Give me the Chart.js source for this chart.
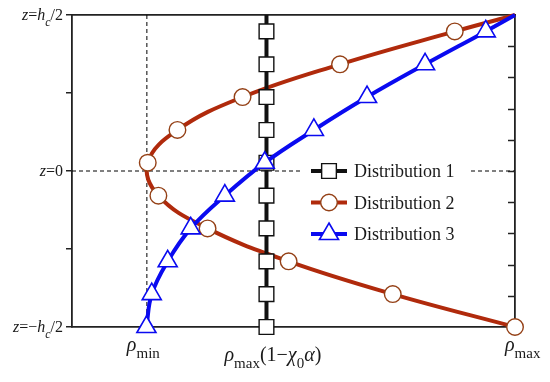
<!DOCTYPE html>
<html><head><meta charset="utf-8">
<script src="https://cdn.jsdelivr.net/npm/chart.js@4.4.0/dist/chart.umd.min.js"></script>
<style>html,body{margin:0;padding:0;background:#fff;}canvas{display:block;}</style>
</head><body>
<canvas id="c" width="550" height="382"></canvas>
<script>
// ---- data ----
const seriesNames = ['Distribution 1', 'Distribution 2', 'Distribution 3'];
const zLevels = [-1, -0.789, -0.579, -0.368, -0.158, 0.053, 0.263, 0.474, 0.684, 0.895, 1];
const rhoMin = 0.169, rhoMid = 0.439, rhoMax = 1;
const dist1 = [0.439, 0.439, 0.439, 0.439, 0.439, 0.439, 0.439, 0.439, 0.439, 0.439, 0.439];
const dist2 = [1.0, 0.724, 0.489, 0.306, 0.195, 0.171, 0.238, 0.385, 0.605, 0.864, 1.0];
const dist3 = [0.168, 0.180, 0.216, 0.268, 0.345, 0.435, 0.546, 0.666, 0.797, 0.934, 1.0];
const markerShown = [1, 1, 1, 1, 1, 1, 1, 1, 1, 1, 0];
const xTickValues = [rhoMin, rhoMid, rhoMax];
const xTickLabels = ['*ρ*_{min}', '*ρ*_{max}(1−*χ*_{0}*α*)', '*ρ*_{max}'];
const yTickValues = [1, 0, -1];
const yTickLabels = ['*z*=*h*_{*c*}/2', '*z*=0', '*z*=−*h*_{*c*}/2'];
const guideVerticalZ = [-1, 1];
const guideHorizontalX = [0, 1];

// ---- styling / layout ----
const FONT = '"Liberation Serif", "Times New Roman", serif';
const RED = '#b02a0c', RED_EDGE = '#944016', BLUE = '#0a0af0', BLACK = '#111';
const xLabelLayout = [{dx: -20, base: 24}, {dx: -42, base: 34}, {dx: -10, base: 24}];

function pts(xs) { return xs.map((x, i) => ({x: x, y: zLevels[i]})); }
function radii(r) { return markerShown.map(m => m ? r : 0); }

function parseRich(s) {
  const segs = []; let it = false, sub = false, cur = null;
  for (let i = 0; i < s.length; i++) {
    const ch = s[i];
    if (ch === '*') { it = !it; continue; }
    if (ch === '_' && s[i + 1] === '{') { sub = true; i++; continue; }
    if (ch === '}' && sub) { sub = false; continue; }
    if (!cur || cur.it !== it || cur.sub !== sub) { cur = {t: '', it: it, sub: sub}; segs.push(cur); }
    cur.t += ch;
  }
  return segs;
}
function drawRich(ctx, s, x, y, align, size, subSize, subDy) {
  const segs = parseRich(s);
  const font = g => (g.it ? 'italic ' : '') + (g.sub ? subSize : size) + 'px ' + FONT;
  let w = 0;
  segs.forEach(g => { ctx.font = font(g); g.w = ctx.measureText(g.t).width; w += g.w; });
  let cx = align === 'right' ? x - w : (align === 'center' ? x - w / 2 : x);
  segs.forEach(g => { ctx.font = font(g); ctx.fillText(g.t, cx, y + (g.sub ? subDy : 0)); cx += g.w; });
}

const decorPlugin = {
  id: 'decor',
  afterDatasetsDraw(chart) {
    const ctx = chart.ctx, ca = chart.chartArea;
    const ys = chart.scales.y, y2 = chart.scales.y2, xs = chart.scales.x;
    ctx.save();
    // inward ticks on right axis
    ctx.strokeStyle = '#222'; ctx.lineWidth = 1.5;
    y2.ticks.forEach(t => {
      if (Math.abs(t.value) > 0.999) return;
      const py = Math.round(y2.getPixelForValue(t.value)) + 0.5;
      ctx.beginPath(); ctx.moveTo(ca.right - 7, py); ctx.lineTo(ca.right, py); ctx.stroke();
    });
    // legend (ordered Distribution 1, 2, 3)
    const ly0 = ys.getPixelForValue(0);
    const lx = ca.left + 231;
    ctx.fillStyle = '#fff';
    ctx.fillRect(lx, ly0 - 14, 165, 94);
    seriesNames.forEach((name, row) => {
      const ds = chart.data.datasets.find(d => d.label === name);
      const y = ly0 + row * 31.5;
      ctx.strokeStyle = ds.borderColor; ctx.lineWidth = ds.borderWidth; ctx.setLineDash([]);
      ctx.beginPath(); ctx.moveTo(lx + 8, y); ctx.lineTo(lx + 44, y); ctx.stroke();
      ctx.fillStyle = ds.pointBackgroundColor; ctx.strokeStyle = ds.pointBorderColor; ctx.lineWidth = ds.pointBorderWidth;
      Chart.helpers.drawPoint(ctx, {pointStyle: ds.pointStyle, radius: ds.legendRadius, rotation: 0, borderWidth: ds.pointBorderWidth}, lx + 26, y);
      ctx.fillStyle = '#1a1a1a'; ctx.font = '18px ' + FONT; ctx.textBaseline = 'alphabetic';
      ctx.fillText(name, lx + 51, y + 6);
    });
    // y tick labels
    ctx.fillStyle = '#1a1a1a'; ctx.textBaseline = 'alphabetic';
    yTickValues.forEach((v, i) => {
      drawRich(ctx, yTickLabels[i], ca.left - 9, ys.getPixelForValue(v) + 5, 'right', 16, 12, 6);
    });
    // x tick labels
    xTickValues.forEach((v, i) => {
      const L = xLabelLayout[i];
      drawRich(ctx, xTickLabels[i], xs.getPixelForValue(v) + L.dx, ca.bottom + L.base, 'left', 20, 15, 7);
    });
    ctx.restore();
  }
};

new Chart(document.getElementById('c'), {
  type: 'line',
  data: {
    datasets: [
      {label: seriesNames[2], data: pts(dist3), borderColor: BLUE, borderWidth: 4, tension: 0.4,
       pointStyle: 'triangle', pointRadius: radii(11), legendRadius: 11, pointBackgroundColor: '#fff',
       pointBorderColor: BLUE, pointBorderWidth: 1.6, order: 1, clip: false},
      {label: seriesNames[0], data: pts(dist1), borderColor: BLACK, borderWidth: 4, tension: 0,
       pointStyle: 'rect', pointRadius: radii(10.4), legendRadius: 10.4, pointBackgroundColor: '#fff',
       pointBorderColor: BLACK, pointBorderWidth: 1.4, order: 2, clip: false},
      {label: seriesNames[1], data: pts(dist2), borderColor: RED, borderWidth: 4, tension: 0.4,
       pointStyle: 'circle', pointRadius: radii(8.3), legendRadius: 8.3, pointBackgroundColor: '#fff',
       pointBorderColor: RED_EDGE, pointBorderWidth: 1.4, order: 3, clip: false},
      {label: 'guide-v', data: guideVerticalZ.map(z => ({x: rhoMin, y: z})), borderColor: '#000', borderWidth: 1,
       borderDash: [4, 3], pointRadius: 0, order: 4},
      {label: 'guide-h', data: guideHorizontalX.map(x => ({x: x, y: 0})), borderColor: '#000', borderWidth: 1,
       borderDash: [4, 3], pointRadius: 0, order: 5}
    ]
  },
  options: {
    responsive: false, animation: false,
    layout: {padding: 0},
    plugins: {legend: {display: false}, tooltip: {enabled: false}},
    scales: {
      x: {type: 'linear', position: 'bottom', min: 0, max: 1,
          grid: {drawOnChartArea: false, drawTicks: false}, ticks: {display: false},
          border: {display: true, color: '#222', width: 1.8},
          afterFit(s) { s.height = 55; }},
      x2: {type: 'linear', position: 'top', min: 0, max: 1,
          grid: {drawOnChartArea: false, drawTicks: false}, ticks: {display: false},
          border: {display: true, color: '#222', width: 1.8},
          afterFit(s) { s.height = 15; }},
      y: {type: 'linear', position: 'left', min: -1, max: 1,
          ticks: {display: false, stepSize: 0.5},
          grid: {drawOnChartArea: false, drawTicks: true, tickLength: 6, color: '#222', lineWidth: 1.5},
          border: {display: true, color: '#222', width: 1.8},
          afterFit(s) { s.width = 72; }},
      y2: {type: 'linear', position: 'right', min: -1, max: 1,
          ticks: {display: false, stepSize: 0.2},
          grid: {drawOnChartArea: false, drawTicks: false},
          border: {display: true, color: '#222', width: 1.8},
          afterFit(s) { s.width = 35; }}
    }
  },
  plugins: [decorPlugin]
});
</script>
</body></html>
